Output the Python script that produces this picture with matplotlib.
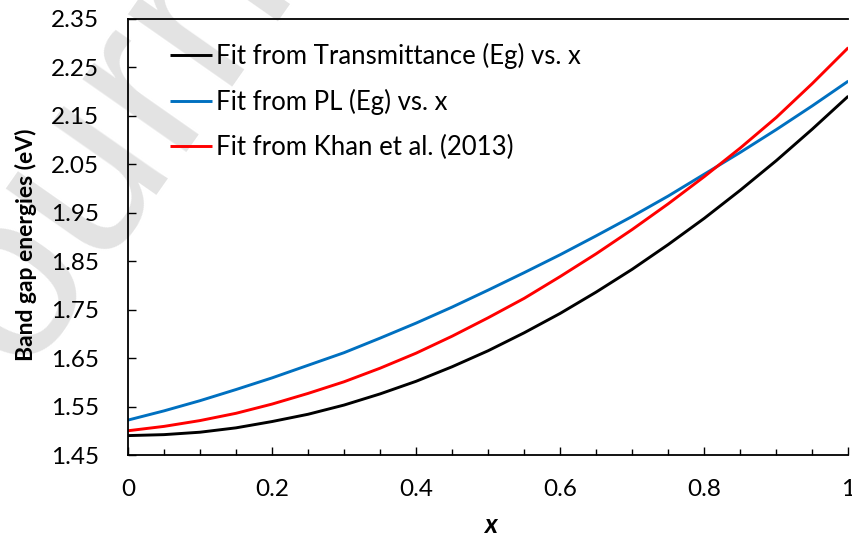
import matplotlib
matplotlib.use("Agg")
import matplotlib.pyplot as plt
from matplotlib.ticker import MultipleLocator

plt.rcParams['font.family'] = ['Lato', 'DejaVu Sans']

# Composition x and band gap values for each fitted curve
x = [0.00, 0.05, 0.10, 0.15, 0.20, 0.25, 0.30, 0.35, 0.40, 0.45, 0.50,
     0.55, 0.60, 0.65, 0.70, 0.75, 0.80, 0.85, 0.90, 0.95, 1.00]
eg_transmittance = [1.490, 1.492, 1.497, 1.506, 1.519, 1.534, 1.553, 1.576, 1.602, 1.632, 1.665,
                    1.702, 1.742, 1.786, 1.833, 1.884, 1.938, 1.996, 2.057, 2.122, 2.190]
eg_pl = [1.522, 1.541, 1.562, 1.585, 1.609, 1.635, 1.661, 1.691, 1.722, 1.755, 1.790,
         1.826, 1.863, 1.902, 1.942, 1.984, 2.029, 2.074, 2.121, 2.170, 2.221]
eg_khan = [1.500, 1.509, 1.521, 1.536, 1.555, 1.577, 1.601, 1.629, 1.660, 1.695, 1.733,
           1.773, 1.818, 1.865, 1.915, 1.968, 2.024, 2.083, 2.146, 2.216, 2.290]

labels = ["Fit from Transmittance (Eg) vs. x",
          "Fit from PL (Eg) vs. x",
          "Fit from Khan et al. (2013)"]
colors = ["#000000", "#0070C0", "#FF0000"]

xticks = [0, 0.2, 0.4, 0.6, 0.8, 1.0]
xticklabels = ["0", "0.2", "0.4", "0.6", "0.8", "1"]
yticks = [1.45, 1.55, 1.65, 1.75, 1.85, 1.95, 2.05, 2.15, 2.25, 2.35]

fig = plt.figure(figsize=(8.52, 5.40), dpi=100)
ax = fig.add_axes([0.1502, 0.1574, 0.8455, 0.8083])
ax.set_facecolor('none')

# faint watermark behind the chart
fig.text(-0.05, 0.11, "Journal Pre-proof", fontsize=172, color="#e3e3e3",
         family=['Liberation Sans', 'DejaVu Sans'], rotation=55,
         rotation_mode='anchor', ha='left', va='baseline', zorder=-5)

for series, lab, col in zip([eg_transmittance, eg_pl, eg_khan], labels, colors):
    ax.plot(x, series, color=col, lw=2.1, label=lab, solid_capstyle='butt')

ax.set_xlim(0, 1)
ax.set_ylim(1.45, 2.35)
ax.xaxis.set_minor_locator(MultipleLocator(0.05))
ax.set_xticks(xticks)
ax.set_xticklabels(xticklabels)
ax.set_yticks(yticks)
ax.set_yticklabels([f"{v:.2f}" for v in yticks])

ax.tick_params(axis='both', which='major', direction='in', length=6, width=1.0,
               labelsize=17.5, colors='black')
ax.tick_params(axis='x', which='major', pad=17)
ax.tick_params(axis='y', which='major', pad=21)
ax.tick_params(axis='x', which='minor', direction='in', length=4.5, width=1.0)
ax.tick_params(axis='y', which='minor', left=False)

for side in ['left', 'bottom', 'top']:
    ax.spines[side].set_linewidth(1.3)
ax.spines['right'].set_visible(False)

ax.set_xlabel("x", fontsize=19, fontweight='bold', fontstyle='italic')
ax.xaxis.label.set_va('center')
ax.xaxis.set_label_coords(0.503, -0.160)
ax.set_ylabel("Band gap energies (eV)", fontsize=16.5, fontweight='bold')
ax.yaxis.label.set_va('center')
ax.yaxis.set_label_coords(-0.142, 0.481)

leg = ax.legend(loc='upper left', bbox_to_anchor=(0.0445, 0.967), frameon=False,
                fontsize=18.5, handlelength=1.63, handletextpad=0.15,
                labelspacing=0.77, borderaxespad=0)

fig.savefig("out.png", dpi=100)
